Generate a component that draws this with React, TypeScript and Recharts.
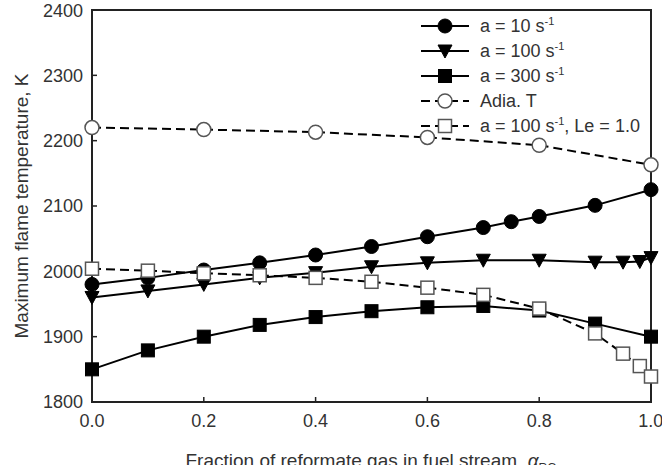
import React from 'react';
import { LineChart, Line, XAxis, YAxis, ReferenceArea } from 'recharts';

// a = 10 s-1
const alphaA10 = [0, 0.1, 0.2, 0.3, 0.4, 0.5, 0.6, 0.7, 0.75, 0.8, 0.9, 1.0];
const tempA10 = [1980, 1990, 2002, 2013, 2025, 2038, 2053, 2067, 2076, 2084, 2101, 2125];

// a = 100 s-1
const alphaA100 = [0, 0.1, 0.2, 0.3, 0.4, 0.5, 0.6, 0.7, 0.8, 0.9, 0.95, 0.98, 1.0];
const tempA100 = [1960, 1970, 1980, 1990, 1998, 2007, 2013, 2017, 2017, 2014, 2014, 2015, 2021];

// a = 300 s-1
const alphaA300 = [0, 0.1, 0.2, 0.3, 0.4, 0.5, 0.6, 0.7, 0.8, 0.9, 1.0];
const tempA300 = [1850, 1879, 1900, 1918, 1930, 1939, 1945, 1947, 1940, 1920, 1900];

// adiabatic flame temperature
const alphaAdia = [0, 0.2, 0.4, 0.6, 0.8, 1.0];
const tempAdia = [2220, 2217, 2213, 2205, 2193, 2163];

// a = 100 s-1, Le = 1.0
const alphaLe1 = [0, 0.1, 0.2, 0.3, 0.4, 0.5, 0.6, 0.7, 0.8, 0.9, 0.95, 0.98, 1.0];
const tempLe1 = [2004, 2001, 1997, 1994, 1990, 1984, 1975, 1964, 1943, 1905, 1874, 1855, 1839];

const xTicks = [0, 0.2, 0.4, 0.6, 0.8, 1.0];
const yTicks = [1800, 1900, 2000, 2100, 2200, 2300, 2400];

const toRows = (xs: number[], ys: number[]) => xs.map((x, i) => ({ x, y: ys[i] }));

const FONT = '"Liberation Sans", Arial, sans-serif';
const TXT = '#333';

type MarkerKind = 'circle' | 'triangle' | 'square' | 'openCircle' | 'openSquare';

const Marker = ({ kind, cx, cy }: { kind: MarkerKind; cx: number; cy: number }) => {
  if (kind === 'circle') return <circle cx={cx} cy={cy} r={7} fill="#000" stroke="#000" />;
  if (kind === 'openCircle') return <circle cx={cx} cy={cy} r={7} fill="#fff" stroke="#555" strokeWidth={1.5} />;
  if (kind === 'square') return <rect x={cx - 6.5} y={cy - 6.5} width={13} height={13} fill="#000" stroke="#000" />;
  if (kind === 'openSquare')
    return <rect x={cx - 6.5} y={cy - 6.5} width={13} height={13} fill="#fff" stroke="#555" strokeWidth={1.5} />;
  return <path d={`M${cx - 7},${cy - 6} L${cx + 7},${cy - 6} L${cx},${cy + 7} Z`} fill="#000" stroke="#000" />;
};

const dotOf = (kind: MarkerKind) => (p: any) => <Marker key={`${kind}-${p.index}`} kind={kind} cx={p.cx} cy={p.cy} />;

const series = [
  { name: 'a10', data: toRows(alphaA10, tempA10), kind: 'circle' as MarkerKind, dash: undefined },
  { name: 'a100', data: toRows(alphaA100, tempA100), kind: 'triangle' as MarkerKind, dash: undefined },
  { name: 'a300', data: toRows(alphaA300, tempA300), kind: 'square' as MarkerKind, dash: undefined },
  { name: 'adia', data: toRows(alphaAdia, tempAdia), kind: 'openCircle' as MarkerKind, dash: '9 5' },
  { name: 'le1', data: toRows(alphaLe1, tempLe1), kind: 'openSquare' as MarkerKind, dash: '9 5' },
];

const legendRows: { kind: MarkerKind; dashed: boolean; label: React.ReactNode }[] = [
  { kind: 'circle', dashed: false, label: <>a = 10 s<sup>-1</sup></> },
  { kind: 'triangle', dashed: false, label: <>a = 100 s<sup>-1</sup></> },
  { kind: 'square', dashed: false, label: <>a = 300 s<sup>-1</sup></> },
  { kind: 'openCircle', dashed: true, label: <>Adia. T</> },
  { kind: 'openSquare', dashed: true, label: <>a = 100 s<sup>-1</sup>, Le = 1.0</> },
];

const ChartLegend = () => (
  <div style={{ position: 'absolute', left: 418, top: 13, fontFamily: FONT, fontSize: 18, color: TXT }}>
    {legendRows.map((r, i) => (
      <div key={i} style={{ display: 'flex', alignItems: 'center', height: 25 }}>
        <svg width={56} height={20} style={{ marginRight: 6 }}>
          <line x1={3} y1={10} x2={51} y2={10} stroke="#000" strokeWidth={2} strokeDasharray={r.dashed ? '9 5' : undefined} />
          <Marker kind={r.kind} cx={27} cy={10} />
        </svg>
        <span style={{ lineHeight: '20px' }}>
          {React.Children.map(r.label, (c) => c)}
        </span>
      </div>
    ))}
    <style>{`sup{font-size:11px;vertical-align:7px;line-height:0}`}</style>
  </div>
);

const YLabel = () => (
  <text
    x={21}
    y={206}
    transform="rotate(-90 21 206)"
    textAnchor="middle"
    dominantBaseline="central"
    fontFamily={FONT}
    fontSize={19}
    fill={TXT}
  >
    Maximum flame temperature, K
  </text>
);

const XLabel = () => (
  <text x={371} y={467} textAnchor="middle" fontFamily={FONT} fontSize={19} fill={TXT}>
    Fraction of reformate gas in fuel stream,{' '}
    <tspan fontStyle="italic">α</tspan>
    <tspan fontSize={12} dy={5}>RG</tspan>
  </text>
);

export default function App() {
  return (
    <div style={{ position: 'absolute', left: 0, top: 0, width: 662, height: 465, background: '#fff' }}>
      <LineChart width={662} height={465} margin={{ top: 10, right: 11, bottom: 0, left: 0 }}>
        <XAxis
          type="number"
          dataKey="x"
          domain={[0, 1]}
          ticks={xTicks}
          tickFormatter={(v: number) => v.toFixed(1)}
          height={63}
          allowDuplicatedCategory={false}
          tickSize={-5}
          tickMargin={17}
          axisLine={{ stroke: '#222', strokeWidth: 2 }}
          tickLine={{ stroke: '#222', strokeWidth: 1.5 }}
          tick={{ fill: TXT, fontSize: 18, fontFamily: FONT }}
          label={<XLabel />}
        />
        <YAxis
          type="number"
          domain={[1800, 2400]}
          ticks={yTicks}
          width={92}
          tickSize={-5}
          tickMargin={14}
          axisLine={{ stroke: '#222', strokeWidth: 2 }}
          tickLine={{ stroke: '#222', strokeWidth: 1.5 }}
          tick={{ fill: TXT, fontSize: 18, fontFamily: FONT }}
          label={<YLabel />}
        />
        <ReferenceArea x1={0} x2={1} y1={1800} y2={2400} fill="none" stroke="#222" strokeWidth={2} ifOverflow="visible" />
        {series.map((s) => (
          <Line
            key={s.name}
            data={s.data}
            dataKey="y"
            type="linear"
            stroke="#000"
            strokeWidth={2}
            strokeDasharray={s.dash}
            dot={dotOf(s.kind)}
            activeDot={false}
            isAnimationActive={false}
          />
        ))}
      </LineChart>
      <ChartLegend />
    </div>
  );
}
